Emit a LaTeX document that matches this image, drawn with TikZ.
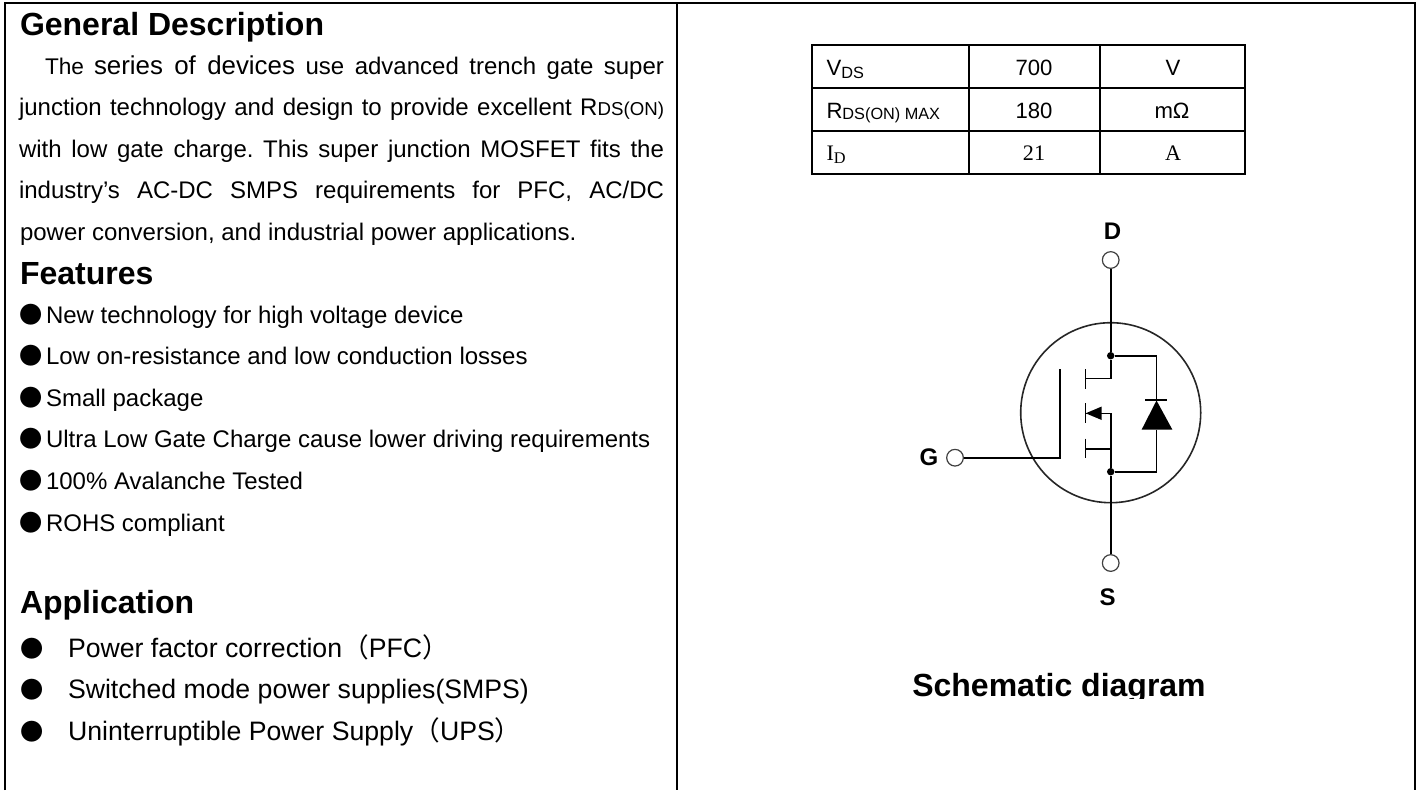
\documentclass[tikz,border=0pt]{standalone}
\usepackage{fontspec}
\setmainfont{Liberation Sans}
\newfontfamily\cjk{Noto Sans CJK SC}
\newfontfamily\tnr{Liberation Serif}
\usetikzlibrary{arrows.meta}
\frenchspacing
\newcommand{\fs}[1]{\fontsize{#1}{#1}\selectfont}
\newcommand{\just}[2]{\makebox[\dimexpr#1pt*3/4\relax][s]{#2}}
\newcommand{\lowr}[2]{\raisebox{-#1pt}{\fs{12.2}#2}}
\tikzset{
  x=0.75pt,y=-0.75pt,
  frameline/.style={line width=2.2pt},
  tabline/.style={line width=1.6pt},
  wire/.style={line width=1.2pt},
  txt/.style={anchor=base west,inner sep=0pt,outer sep=0pt,font=\fs{18}},
  apptxt/.style={anchor=base west,inner sep=0pt,outer sep=0pt,font=\fs{20}},
  bul/.style={anchor=base west,inner sep=0pt,outer sep=0pt,font=\fs{17.4}\cjk},
  head/.style={anchor=base west,inner sep=0pt,outer sep=0pt,font=\fs{24}\bfseries},
  cell/.style={anchor=base,inner sep=0pt,outer sep=0pt,font=\fs{16.6}},
  celll/.style={anchor=base west,inner sep=0pt,outer sep=0pt,font=\fs{16.6}},
  term/.style={circle,draw=black!75,line width=0.9pt,fill=white,minimum size=12.5pt,inner sep=0pt},
  dot/.style={circle,fill=black,minimum size=5.6pt,inner sep=0pt},
  pin/.style={inner sep=0pt,font=\fs{18}\bfseries},
}
\begin{document}
\begin{tikzpicture}
\useasboundingbox (0,0) rectangle (1419,790);
% frame
\coordinate (ftl) at (5,3); \coordinate (ftr) at (1415,3);
\coordinate (fbl) at (5,790); \coordinate (fbr) at (1415,790);
\coordinate (fmt) at (677,3); \coordinate (fmb) at (677,790);
\draw[frameline] (fbl) -- (ftl) -- (ftr) -- (fbr);
\draw[frameline] (fmt) -- (fmb);
% left column
\node[head] (h1) at (20,35) {General Description};
\node[txt] (l1) at (45,74) {\just{619}{\fs{17}The \fs{19.4}series of devices\fs{18} use advanced trench gate super}};
\node[txt] (l2) at (19,115) {\just{645}{junction technology and design to provide excellent R{\fs{14}DS(ON)}}};
\node[txt] (l3) at (19,157) {\just{645}{with low gate charge. This super junction MOSFET fits the}};
\node[txt] (l4) at (19,198) {\just{645}{industry’s AC-DC SMPS requirements for PFC, AC/DC}};
\node[txt] (l5) at (20,240) {power conversion, and industrial power applications.};
\node[head] (h2) at (20,284) {Features};
\node[bul] (b1) at (19.5,323) {●}; \node[txt] (f1) at (46,323) {New technology for high voltage device};
\node[bul] (b2) at (19.5,364) {●}; \node[txt] (f2) at (46,364) {Low on-resistance and low conduction losses};
\node[bul] (b3) at (19.5,406) {●}; \node[txt] (f3) at (46,406) {Small package};
\node[bul] (b4) at (19.5,447) {●}; \node[txt] (f4) at (46,447) {Ultra Low Gate Charge cause lower driving requirements};
\node[bul] (b5) at (19.5,489) {●}; \node[txt] (f5) at (46,489) {100\% Avalanche Tested};
\node[bul] (b6) at (19.5,531) {●}; \node[txt] (f6) at (46,531) {ROHS compliant};
\node[head] (h3) at (20,613) {Application};
\node[bul] (a1) at (20,657) {●}; \node[apptxt] (a1t) at (68,657) {Power factor correction{\cjk （}PFC{\cjk ）}};
\node[bul] (a2) at (20,698) {●}; \node[apptxt] (a2t) at (68,698) {Switched mode power supplies(SMPS)};
\node[bul] (a3) at (20,740) {●}; \node[apptxt] (a3t) at (68,740) {Uninterruptible Power Supply{\cjk （}UPS{\cjk ）}};
% table
\draw[tabline] (812,45) rectangle (1245,174);
\draw[tabline] (812,88) -- (1245,88) (812,131) -- (1245,131) (969,45) -- (969,174) (1100,45) -- (1100,174);
\node[celll] (t11) at (826.5,75) {V\lowr{2.4}{DS}};
\node[cell] (t12) at (1034,75) {700};
\node[cell] (t13) at (1173,75) {V};
\node[celll] (t21) at (826.5,118) {R\lowr{1.2}{DS(ON) MAX}};
\node[cell] (t22) at (1034,118) {180};
\node[cell] (t23) at (1172,118) {m\symbol{"03A9}};
\node[celll,font=\fs{16.6}\tnr] (t31) at (826.5,160) {I\lowr{2.4}{D}};
\node[cell,font=\fs{16.6}\tnr] (t32) at (1034,160) {21};
\node[cell,font=\fs{16.6}\tnr] (t33) at (1173,160) {A};
% schematic
\node[pin] (D) at (1112.5,231) {D};
\node[pin] (S) at (1107.5,597) {S};
\node[pin] (G) at (929,457.5) {G};
\node[term] (td) at (1110.7,260) {};
\node[term] (ts) at (1110.7,563) {};
\node[term] (tg) at (955,457.7) {};
\node[circle,draw=black!85,line width=1.2pt,minimum size=135pt,inner sep=0pt] (ring) at (1110.7,412.7) {};
\node[dot] (jd) at (1110.7,355.7) {};
\node[dot] (js) at (1110.7,471.7) {};
\coordinate (gp) at (1060,457.7);
\coordinate (gt) at (1060,369.3);
\draw[wire] (tg) -- (gp) -- (gt);
\draw[wire] (td) -- (jd);
\draw[wire] (ts) -- (js);
\coordinate (c1a) at (1085.3,369.3); \coordinate (c1b) at (1085.3,389);
\coordinate (c2a) at (1085.3,403.3); \coordinate (c2b) at (1085.3,422.7);
\coordinate (c3a) at (1085.3,438.7); \coordinate (c3b) at (1085.3,458.3);
\draw[wire] (c1a) -- (c1b) (c2a) -- (c2b) (c3a) -- (c3b);
\coordinate (sd) at (1085.3,378.3); \coordinate (sdc) at (1110.7,378.3);
\coordinate (sm) at (1085.3,413.3); \coordinate (smc) at (1110.7,413.3);
\coordinate (ss) at (1085.3,449); \coordinate (ssc) at (1110.7,449);
\draw[wire] (jd) -- (sdc) -- (sd);
\draw[wire] (js) -- (ssc) -- (ss);
\draw[wire] (ssc) -- (smc) -- (sm);
\fill (1085.7,413.3) -- (1101.7,406.5) -- (1101.7,420) -- cycle;
\coordinate (dt) at (1156.5,355.7); \coordinate (db) at (1156.5,471.7);
\coordinate (da) at (1156.5,400.5);
\coordinate (dl) at (1141.7,429.5); \coordinate (dr) at (1172.3,429.5);
\draw[wire] (jd) -- (dt) -- (da);
\draw[wire] (js) -- (db) -- (1156.5,429.5);
\fill (da) -- (dr) -- (dl) -- cycle;
\draw[wire] (1145.3,400) -- (1167.3,400);
\begin{scope}
\clip (880,650) rectangle (1240,698.5);
\node[anchor=base,inner sep=0pt,font=\fs{24}\bfseries] (cap) at (1059,696.7) {Schematic diagram};
\end{scope}
\end{tikzpicture}
\end{document}
